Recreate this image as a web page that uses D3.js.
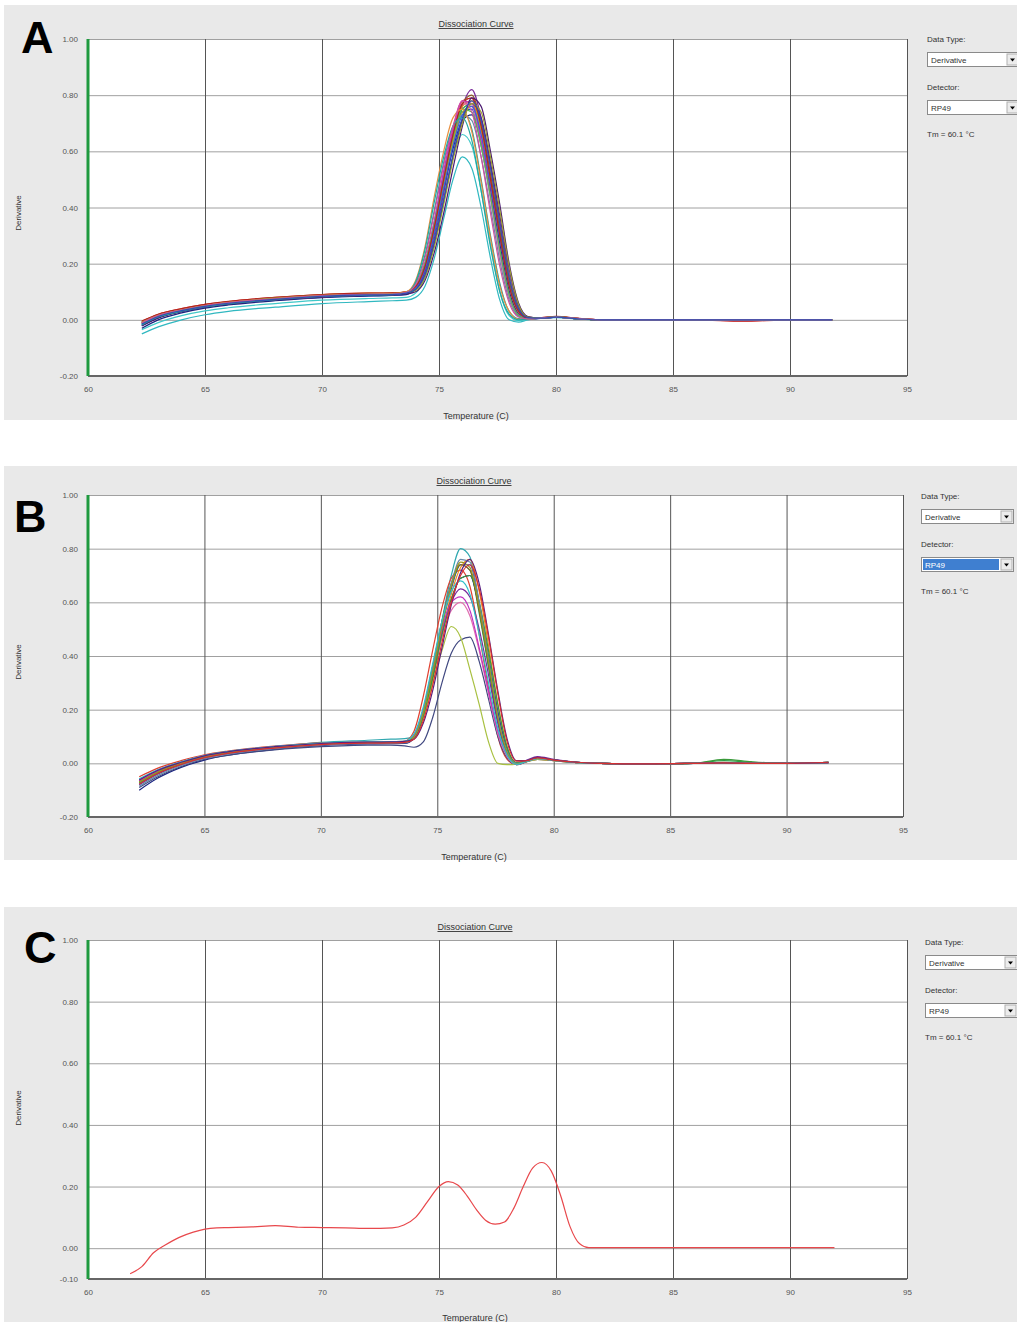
<!DOCTYPE html>
<html>
<head>
<meta charset="utf-8">
<script src="https://cdn.jsdelivr.net/npm/d3@7"></script>
<style>
  body { margin: 0; background: #fff; }
  svg { display: block; font-family: "Liberation Sans", Arial, sans-serif; }
</style>
</head>
<body>
<div id="chart"></div>
<script>

// ---- data ----

var xTicks = [60, 65, 70, 75, 80, 85, 90, 95]
var yTicksAB = [-0.2, 0, 0.2, 0.4, 0.6, 0.8, 1.0]
var yTicksC = [-0.1, 0, 0.2, 0.4, 0.6, 0.8, 1.0]

// panel A: temperature grid and one value list per well
var tempA = [62.3, 63, 64, 65, 66, 68, 70, 72, 73, 73.6, 74, 74.4, 74.8, 75.2, 75.6, 76, 76.4, 76.8, 77.2, 77.6, 78, 78.4, 78.8, 79.4, 80, 81, 82, 84, 86, 88, 90, 91.8]
var seriesA = [
  [-0.05, -0.025, 0.0, 0.018, 0.03, 0.045, 0.058, 0.065, 0.068, 0.07, 0.08, 0.12, 0.22, 0.36, 0.5, 0.58, 0.54, 0.4, 0.22, 0.07, 0.0, -0.008, 0.0, 0.006, 0.008, 0.002, 0, 0, 0, 0, 0, 0],
  [-0.035, -0.01, 0.015, 0.032, 0.043, 0.058, 0.07, 0.076, 0.078, 0.08, 0.095, 0.15, 0.27, 0.43, 0.58, 0.66, 0.62, 0.46, 0.27, 0.1, 0.015, -0.003, 0.002, 0.006, 0.01, 0.003, 0, 0, 0, 0, 0, 0],
  [-0.01, 0.015, 0.035, 0.05, 0.06, 0.075, 0.085, 0.09, 0.09, 0.095, 0.11, 0.17, 0.29, 0.45, 0.62, 0.76, 0.82, 0.72, 0.55, 0.35, 0.16, 0.04, 0.008, 0.006, 0.01, 0.004, 0, 0, 0, 0, 0, 0],
  [-0.005, 0.02, 0.04, 0.055, 0.065, 0.08, 0.09, 0.095, 0.095, 0.1, 0.12, 0.2, 0.34, 0.51, 0.67, 0.78, 0.79, 0.66, 0.47, 0.27, 0.1, 0.02, 0.005, 0.008, 0.01, 0.003, 0, 0, 0, -0.005, 0, 0],
  [-0.02, 0.008, 0.03, 0.045, 0.055, 0.07, 0.08, 0.085, 0.088, 0.092, 0.115, 0.19, 0.33, 0.49, 0.64, 0.74, 0.75, 0.62, 0.44, 0.25, 0.09, 0.015, 0.002, 0.006, 0.01, 0.003, 0, 0, 0, 0, 0, 0],
  [-0.01, 0.015, 0.035, 0.05, 0.062, 0.078, 0.087, 0.092, 0.092, 0.097, 0.115, 0.18, 0.31, 0.47, 0.63, 0.75, 0.77, 0.68, 0.5, 0.31, 0.13, 0.03, 0.006, 0.007, 0.011, 0.004, 0, 0, 0, 0, 0, 0],
  [-0.008, 0.018, 0.038, 0.052, 0.063, 0.077, 0.088, 0.094, 0.094, 0.099, 0.118, 0.19, 0.32, 0.48, 0.64, 0.76, 0.78, 0.67, 0.49, 0.29, 0.12, 0.025, 0.005, 0.007, 0.01, 0.004, 0, 0, 0, 0, 0, 0],
  [-0.03, 0.0, 0.025, 0.042, 0.053, 0.068, 0.079, 0.085, 0.087, 0.09, 0.11, 0.18, 0.31, 0.47, 0.61, 0.71, 0.73, 0.63, 0.46, 0.27, 0.1, 0.02, 0.003, 0.006, 0.01, 0.003, 0, 0, 0, 0, 0, 0],
  [-0.015, 0.012, 0.033, 0.048, 0.058, 0.073, 0.083, 0.089, 0.09, 0.096, 0.13, 0.23, 0.39, 0.56, 0.69, 0.74, 0.68, 0.5, 0.3, 0.13, 0.03, 0.004, 0.002, 0.007, 0.01, 0.003, 0, 0, 0, 0, 0, 0],
  [-0.012, 0.014, 0.034, 0.05, 0.06, 0.074, 0.085, 0.09, 0.091, 0.096, 0.12, 0.2, 0.35, 0.52, 0.67, 0.77, 0.76, 0.62, 0.43, 0.23, 0.08, 0.015, 0.003, 0.007, 0.01, 0.004, 0, 0, 0, 0, 0, 0],
  [-0.006, 0.018, 0.038, 0.053, 0.064, 0.078, 0.089, 0.094, 0.095, 0.1, 0.12, 0.19, 0.32, 0.48, 0.63, 0.74, 0.76, 0.68, 0.52, 0.33, 0.15, 0.04, 0.008, 0.007, 0.011, 0.004, 0, 0, 0, 0, 0, 0],
  [-0.01, 0.016, 0.036, 0.051, 0.062, 0.076, 0.086, 0.091, 0.092, 0.097, 0.116, 0.19, 0.33, 0.5, 0.66, 0.77, 0.8, 0.7, 0.52, 0.32, 0.14, 0.035, 0.007, 0.007, 0.01, 0.004, 0, 0, 0, 0, 0, 0],
  [-0.02, 0.008, 0.03, 0.046, 0.057, 0.072, 0.082, 0.088, 0.09, 0.094, 0.108, 0.16, 0.27, 0.42, 0.58, 0.71, 0.77, 0.72, 0.56, 0.37, 0.18, 0.05, 0.01, 0.006, 0.01, 0.003, 0, 0, 0, 0, 0, 0],
  [-0.018, 0.01, 0.031, 0.047, 0.057, 0.072, 0.082, 0.088, 0.089, 0.094, 0.117, 0.2, 0.35, 0.52, 0.66, 0.73, 0.71, 0.58, 0.4, 0.21, 0.07, 0.012, 0.002, 0.006, 0.01, 0.003, 0, 0, 0, 0, 0, 0],
  [-0.008, 0.017, 0.037, 0.052, 0.062, 0.077, 0.087, 0.093, 0.093, 0.098, 0.12, 0.2, 0.35, 0.53, 0.68, 0.78, 0.77, 0.64, 0.45, 0.25, 0.09, 0.018, 0.004, 0.007, 0.01, 0.004, 0, 0, 0, 0, 0, 0],
  [-0.014, 0.012, 0.033, 0.048, 0.059, 0.074, 0.084, 0.09, 0.09, 0.095, 0.118, 0.2, 0.34, 0.5, 0.65, 0.75, 0.74, 0.62, 0.44, 0.25, 0.09, 0.016, 0.003, 0.007, 0.01, 0.003, 0, 0, 0, 0, 0, 0],
  [-0.016, 0.012, 0.032, 0.047, 0.058, 0.073, 0.083, 0.089, 0.09, 0.095, 0.112, 0.18, 0.31, 0.47, 0.62, 0.73, 0.76, 0.66, 0.48, 0.29, 0.12, 0.03, 0.006, 0.006, 0.01, 0.003, 0, 0, 0, 0, 0, 0],
  [-0.004, 0.02, 0.04, 0.055, 0.066, 0.08, 0.09, 0.095, 0.096, 0.1, 0.118, 0.19, 0.33, 0.5, 0.66, 0.77, 0.79, 0.69, 0.5, 0.3, 0.12, 0.03, 0.006, 0.008, 0.012, 0.005, 0, 0, 0, -0.004, 0, 0],
  [-0.012, 0.014, 0.035, 0.05, 0.061, 0.075, 0.086, 0.091, 0.093, 0.1, 0.14, 0.26, 0.44, 0.6, 0.72, 0.75, 0.67, 0.49, 0.29, 0.12, 0.03, 0.002, 0.003, 0.007, 0.01, 0.003, 0, 0, 0, 0, 0, 0],
  [-0.022, 0.006, 0.029, 0.045, 0.056, 0.071, 0.081, 0.087, 0.088, 0.092, 0.1, 0.14, 0.24, 0.38, 0.54, 0.69, 0.79, 0.76, 0.6, 0.41, 0.2, 0.06, 0.012, 0.006, 0.01, 0.003, 0, 0, 0, 0, 0, 0],
  [-0.009, 0.016, 0.036, 0.051, 0.062, 0.077, 0.087, 0.092, 0.093, 0.098, 0.105, 0.15, 0.26, 0.41, 0.57, 0.7, 0.77, 0.74, 0.58, 0.39, 0.19, 0.055, 0.01, 0.007, 0.011, 0.004, 0, 0, 0, 0, 0, 0],
  [-0.018, 0.01, 0.031, 0.047, 0.058, 0.072, 0.083, 0.088, 0.09, 0.097, 0.135, 0.25, 0.42, 0.58, 0.69, 0.72, 0.64, 0.46, 0.26, 0.1, 0.02, 0.0, 0.003, 0.007, 0.01, 0.003, 0, 0, 0, 0, 0, 0],
  [-0.011, 0.015, 0.035, 0.05, 0.061, 0.075, 0.086, 0.091, 0.092, 0.098, 0.125, 0.22, 0.38, 0.55, 0.69, 0.78, 0.74, 0.58, 0.38, 0.19, 0.06, 0.01, 0.003, 0.007, 0.01, 0.004, 0, 0, 0, 0, 0, 0],
  [-0.015, 0.012, 0.033, 0.048, 0.059, 0.073, 0.084, 0.089, 0.09, 0.095, 0.108, 0.16, 0.28, 0.43, 0.59, 0.72, 0.78, 0.71, 0.54, 0.34, 0.15, 0.04, 0.008, 0.006, 0.01, 0.003, 0, 0, 0, 0, 0, 0]
]
var colorsA = ['#30b8c0', '#40c8c8', '#7a2a9a', '#d83030', '#2a40c0', '#2aa048', '#f08a20', '#1a2480', '#2a9a9a', '#e070b0',
               '#b8b020', '#8b5a2b', '#5a2080', '#6a88a8', '#c030c0', '#50c050', '#3a60e0', '#b82020',
               '#e89040', '#4a1a70', '#9aa030', '#20a8a0', '#d050a0', '#3050b0']

// panel B
var tempB = [62.2, 63, 64, 65, 66, 68, 70, 72, 73, 73.6, 74, 74.4, 74.8, 75.2, 75.6, 76, 76.4, 76.8, 77.2, 77.6, 78, 78.4, 78.8, 79.3, 80, 81, 82, 84, 86, 87.3, 88.5, 90, 91.8]
var seriesB = [
  [-0.06, -0.025, 0.005, 0.028, 0.043, 0.062, 0.078, 0.086, 0.09, 0.092, 0.1, 0.19, 0.35, 0.53, 0.7, 0.8, 0.77, 0.58, 0.36, 0.15, 0.03, -0.005, 0.005, 0.015, 0.01, 0.003, 0, -0.002, 0, 0.002, 0, 0, 0.003],
  [-0.05, -0.018, 0.01, 0.032, 0.046, 0.064, 0.076, 0.08, 0.081, 0.083, 0.12, 0.25, 0.42, 0.58, 0.69, 0.72, 0.66, 0.48, 0.28, 0.1, 0.015, -0.005, 0.005, 0.015, 0.01, 0.003, 0, -0.002, 0, 0.004, 0, 0, 0.003],
  [-0.08, -0.04, -0.005, 0.02, 0.036, 0.056, 0.069, 0.075, 0.076, 0.077, 0.098, 0.19, 0.34, 0.51, 0.65, 0.74, 0.74, 0.6, 0.4, 0.19, 0.05, 0.0, 0.008, 0.02, 0.012, 0.004, 0, -0.003, 0, 0.002, 0, 0, 0.004],
  [-0.07, -0.032, 0.0, 0.025, 0.04, 0.06, 0.072, 0.077, 0.078, 0.079, 0.1, 0.2, 0.36, 0.52, 0.66, 0.74, 0.72, 0.56, 0.36, 0.16, 0.035, -0.004, 0.006, 0.018, 0.011, 0.003, 0, -0.003, 0, 0.01, 0.004, 0, 0.004],
  [-0.065, -0.028, 0.003, 0.027, 0.042, 0.061, 0.073, 0.078, 0.079, 0.08, 0.095, 0.17, 0.31, 0.48, 0.63, 0.73, 0.76, 0.64, 0.44, 0.22, 0.06, 0.002, 0.008, 0.02, 0.012, 0.004, 0, -0.002, 0, 0.002, 0, 0, 0.004],
  [-0.1, -0.055, -0.015, 0.012, 0.03, 0.052, 0.066, 0.072, 0.073, 0.074, 0.092, 0.18, 0.32, 0.48, 0.61, 0.69, 0.7, 0.58, 0.39, 0.19, 0.05, 0.0, 0.008, 0.022, 0.013, 0.004, 0, -0.003, 0, 0.002, 0, 0, 0.004],
  [-0.09, -0.05, -0.012, 0.015, 0.03, 0.05, 0.062, 0.068, 0.068, 0.065, 0.06, 0.08, 0.17, 0.3, 0.41, 0.46, 0.47, 0.38, 0.24, 0.1, 0.02, -0.005, 0.005, 0.018, 0.011, 0.003, 0, -0.002, 0, 0.002, 0, 0, 0.003],
  [-0.07, -0.032, 0.0, 0.025, 0.04, 0.06, 0.072, 0.077, 0.078, 0.079, 0.1, 0.18, 0.3, 0.42, 0.51, 0.47, 0.35, 0.22, 0.08, 0.0, -0.005, -0.003, 0.005, 0.015, 0.01, 0.003, 0, -0.002, 0, 0.003, 0, 0, 0.003],
  [-0.06, -0.025, 0.005, 0.028, 0.043, 0.062, 0.074, 0.079, 0.08, 0.081, 0.1, 0.19, 0.33, 0.47, 0.57, 0.6, 0.55, 0.42, 0.26, 0.11, 0.025, -0.004, 0.006, 0.018, 0.011, 0.003, 0, -0.002, 0, 0.002, 0, 0, 0.003],
  [-0.075, -0.036, -0.002, 0.023, 0.038, 0.058, 0.07, 0.076, 0.077, 0.078, 0.1, 0.19, 0.34, 0.49, 0.6, 0.65, 0.62, 0.5, 0.33, 0.15, 0.04, 0.0, 0.01, 0.025, 0.015, 0.004, 0, -0.002, 0, 0.002, 0, 0, 0.003],
  [-0.068, -0.03, 0.002, 0.026, 0.041, 0.06, 0.072, 0.077, 0.078, 0.079, 0.1, 0.2, 0.36, 0.53, 0.67, 0.74, 0.72, 0.57, 0.37, 0.17, 0.04, -0.003, 0.006, 0.018, 0.011, 0.003, 0, -0.002, 0, 0.002, 0, 0, 0.003],
  [-0.072, -0.034, -0.002, 0.024, 0.039, 0.059, 0.071, 0.076, 0.077, 0.078, 0.095, 0.18, 0.32, 0.48, 0.61, 0.69, 0.7, 0.6, 0.42, 0.22, 0.06, 0.002, 0.008, 0.02, 0.012, 0.004, 0, -0.002, 0, 0.015, 0.006, 0, 0.004],
  [-0.065, -0.028, 0.003, 0.027, 0.042, 0.061, 0.073, 0.078, 0.079, 0.08, 0.105, 0.2, 0.35, 0.5, 0.6, 0.62, 0.57, 0.43, 0.27, 0.12, 0.03, -0.004, 0.006, 0.018, 0.011, 0.003, 0, -0.002, 0, 0.002, 0, 0, 0.003],
  [-0.085, -0.045, -0.008, 0.018, 0.034, 0.055, 0.068, 0.074, 0.075, 0.076, 0.097, 0.19, 0.35, 0.52, 0.67, 0.76, 0.75, 0.6, 0.39, 0.18, 0.045, 0.0, 0.007, 0.02, 0.012, 0.004, 0, -0.002, 0, 0.002, 0, 0, 0.004],
  [-0.07, -0.032, 0.0, 0.025, 0.04, 0.06, 0.072, 0.078, 0.079, 0.08, 0.1, 0.19, 0.34, 0.51, 0.66, 0.75, 0.73, 0.58, 0.38, 0.17, 0.04, -0.003, 0.006, 0.018, 0.011, 0.003, 0, -0.002, 0, 0.002, 0, 0, 0.003],
  [-0.058, -0.024, 0.006, 0.029, 0.044, 0.063, 0.075, 0.08, 0.081, 0.083, 0.11, 0.21, 0.37, 0.53, 0.64, 0.68, 0.63, 0.48, 0.3, 0.13, 0.03, -0.004, 0.006, 0.017, 0.011, 0.003, 0, -0.002, 0, 0.002, 0, 0, 0.003],
  [-0.062, -0.026, 0.004, 0.028, 0.043, 0.062, 0.074, 0.079, 0.08, 0.082, 0.09, 0.15, 0.27, 0.43, 0.59, 0.71, 0.76, 0.67, 0.48, 0.27, 0.09, 0.01, 0.01, 0.022, 0.013, 0.004, 0, -0.002, 0, 0.002, 0, 0, 0.003],
  [-0.078, -0.038, -0.004, 0.021, 0.037, 0.057, 0.07, 0.075, 0.076, 0.078, 0.09, 0.16, 0.29, 0.45, 0.6, 0.7, 0.74, 0.65, 0.47, 0.26, 0.08, 0.008, 0.009, 0.02, 0.012, 0.004, 0, -0.002, 0, 0.002, 0, 0, 0.004]
]
var colorsB = ['#30a8b0', '#e04030', '#2a40c0', '#2aa048', '#f08a20', '#1a2480', '#404880', '#a8c040', '#e070b0', '#7a2a9a',
               '#8b5a2b', '#3a9a3a', '#c030c0', '#6a88a8', '#9a9a20', '#30c0c8', '#5a2080', '#d83030']

// panel C: single well
var tempC = [61.8, 62.3, 62.8, 63.3, 63.9, 64.5, 65, 65.5, 66, 67, 68, 69, 70, 71, 72, 73, 73.5, 74, 74.5, 75, 75.4, 75.8, 76.2, 76.6, 77, 77.4, 77.8, 78.2, 78.6, 79, 79.4, 79.8, 80.2, 80.6, 81, 81.4, 82, 84, 86, 88, 90, 91.9]
var seriesC = [
  [-0.083, -0.06, -0.015, 0.01, 0.035, 0.052, 0.062, 0.066, 0.067, 0.069, 0.073, 0.068, 0.067, 0.066, 0.064, 0.066, 0.075, 0.1, 0.15, 0.2, 0.216, 0.205, 0.17, 0.125, 0.09, 0.078, 0.085, 0.13, 0.2, 0.26, 0.278, 0.25, 0.17, 0.07, 0.015, 0.002, 0.002, 0.002, 0.002, 0.002, 0.002, 0.002]
]
var colorsC = ['#e8484c']

// ---- layout of the three screenshot panels ----
var panels = [
  { label: 'A', temps: tempA, series: seriesA, colors: colorsA, yTicks: yTicksAB, yDom: [-0.2, 1],
    bgY: 5, bgH: 415, left: 88, right: 907, top: 39, bottom: 376, cx: 476, titleY: 27, xlabY: 419, ylabY: 213,
    labX: 21, labY: 53, ctrlX: 927, ctrlY: 42, highlight: false },
  { label: 'B', temps: tempB, series: seriesB, colors: colorsB, yTicks: yTicksAB, yDom: [-0.2, 1],
    bgY: 466, bgH: 394, left: 88, right: 903, top: 495, bottom: 817, cx: 474, titleY: 484, xlabY: 860, ylabY: 662,
    labX: 14, labY: 532, ctrlX: 921, ctrlY: 499, highlight: true },
  { label: 'C', temps: tempC, series: seriesC, colors: colorsC, yTicks: yTicksC, yDom: [-0.1, 1],
    bgY: 907, bgH: 415, left: 88, right: 907, top: 940, bottom: 1279, cx: 475, titleY: 930, xlabY: 1321, ylabY: 1108,
    labX: 24, labY: 963, ctrlX: 925, ctrlY: 945, highlight: false }
]

var width = 1017
    height = 1322

var svg = d3.select('#chart')
  .append('svg')
    .attr('width', width)
    .attr('height', height)

panels.forEach(drawPanel)

function drawPanel(p) {
  var g = svg.append('g')

  // grey window background
  g.append('rect')
    .attr('x', 4).attr('y', p.bgY)
    .attr('width', width - 4).attr('height', p.bgH)
    .attr('fill', '#e9e9e9')

  var x = d3.scaleLinear().domain([60, 95]).range([p.left, p.right])
  var y = d3.scaleLinear().domain(p.yDom).range([p.bottom, p.top])

  // white plot area
  g.append('rect')
    .attr('x', p.left).attr('y', p.top)
    .attr('width', p.right - p.left).attr('height', p.bottom - p.top)
    .attr('fill', '#fff')

  // horizontal grid + y tick labels
  var yAxis = g.append('g')
    .attr('transform', 'translate(' + p.left + ',0)')
    .call(d3.axisLeft(y)
      .tickValues(p.yTicks)
      .tickFormat(function(d) { return d.toFixed(2) })
      .tickSize(-(p.right - p.left))
      .tickPadding(10))
  yAxis.select('.domain').remove()
  yAxis.selectAll('line').attr('stroke', '#a0a0a0')
  yAxis.selectAll('text').attr('fill', '#555').style('font-size', '8px')
    .style('font-family', '"Liberation Sans", Arial, sans-serif')

  // vertical grid + x tick labels
  var xAxis = g.append('g')
    .attr('transform', 'translate(0,' + p.bottom + ')')
    .call(d3.axisBottom(x)
      .tickValues(xTicks)
      .tickFormat(d3.format('d'))
      .tickSize(-(p.bottom - p.top))
      .tickPadding(10))
  xAxis.select('.domain').remove()
  xAxis.selectAll('line').attr('stroke', '#555')
  xAxis.selectAll('text').attr('fill', '#555').style('font-size', '8px')
    .style('font-family', '"Liberation Sans", Arial, sans-serif')

  // frame: bottom darker, left green
  g.append('line')
    .attr('x1', p.left).attr('x2', p.right)
    .attr('y1', p.bottom).attr('y2', p.bottom)
    .attr('stroke', '#666').attr('stroke-width', 2)
  g.append('line')
    .attr('x1', p.left).attr('x2', p.left)
    .attr('y1', p.top).attr('y2', p.bottom)
    .attr('stroke', '#1f9a3f').attr('stroke-width', 3)

  // curves
  var line = d3.line()
    .x(function(d) { return x(d[0]) })
    .y(function(d) { return y(d[1]) })
    .curve(d3.curveMonotoneX)

  g.append('g')
    .selectAll('path')
    .data(p.series)
    .enter()
    .append('path')
    .attr('d', function(vals) { return line(vals.map(function(v, i) { return [p.temps[i], v] })) })
    .attr('fill', 'none')
    .attr('stroke', function(d, i) { return p.colors[i % p.colors.length] })
    .attr('stroke-width', 1.2)
    .attr('stroke-linejoin', 'round')

  // titles
  g.append('text')
    .attr('x', p.cx).attr('y', p.titleY)
    .attr('text-anchor', 'middle')
    .attr('text-decoration', 'underline')
    .style('font-size', '9px').attr('fill', '#333')
    .text('Dissociation Curve')
  g.append('text')
    .attr('x', p.cx).attr('y', p.xlabY)
    .attr('text-anchor', 'middle')
    .style('font-size', '9px').attr('fill', '#333')
    .text('Temperature (C)')
  g.append('text')
    .attr('transform', 'translate(21,' + p.ylabY + ') rotate(-90)')
    .attr('text-anchor', 'middle')
    .style('font-size', '8px').attr('fill', '#333')
    .text('Derivative')

  // big panel letter
  g.append('text')
    .attr('x', p.labX).attr('y', p.labY)
    .style('font-size', '45px').style('font-weight', 'bold')
    .attr('fill', '#000')
    .text(p.label)

  // right hand controls
  var c = g.append('g').attr('transform', 'translate(' + p.ctrlX + ',' + p.ctrlY + ')')
  c.append('text').attr('x', 0).attr('y', 0)
    .style('font-size', '8px').attr('fill', '#333').text('Data Type:')
  dropdown(c, 10, 'Derivative', false)
  c.append('text').attr('x', 0).attr('y', 48)
    .style('font-size', '8px').attr('fill', '#333').text('Detector:')
  dropdown(c, 58, 'RP49', p.highlight)
  c.append('text').attr('x', 0).attr('y', 95)
    .style('font-size', '8px').attr('fill', '#333').text('Tm = 60.1 °C')
}

function dropdown(c, top, txt, selected) {
  var w = 92
  c.append('rect')
    .attr('x', 0.5).attr('y', top + 0.5)
    .attr('width', w).attr('height', 14)
    .attr('fill', '#fff').attr('stroke', '#8a8a8a')
  if (selected) {
    c.append('rect')
      .attr('x', 2).attr('y', top + 2)
      .attr('width', w - 16).attr('height', 11)
      .attr('fill', '#3f7fd0')
  }
  c.append('text')
    .attr('x', 4).attr('y', top + 11)
    .style('font-size', '8px')
    .attr('fill', selected ? '#fff' : '#333')
    .text(txt)
  // arrow button
  c.append('rect')
    .attr('x', w - 12).attr('y', top + 2)
    .attr('width', 11).attr('height', 11)
    .attr('fill', '#ececec').attr('stroke', '#b0b0b0')
  c.append('path')
    .attr('d', 'M' + (w - 9) + ',' + (top + 6.5) + 'h5l-2.5,3z')
    .attr('fill', '#000')
}
</script>
</body>
</html>
